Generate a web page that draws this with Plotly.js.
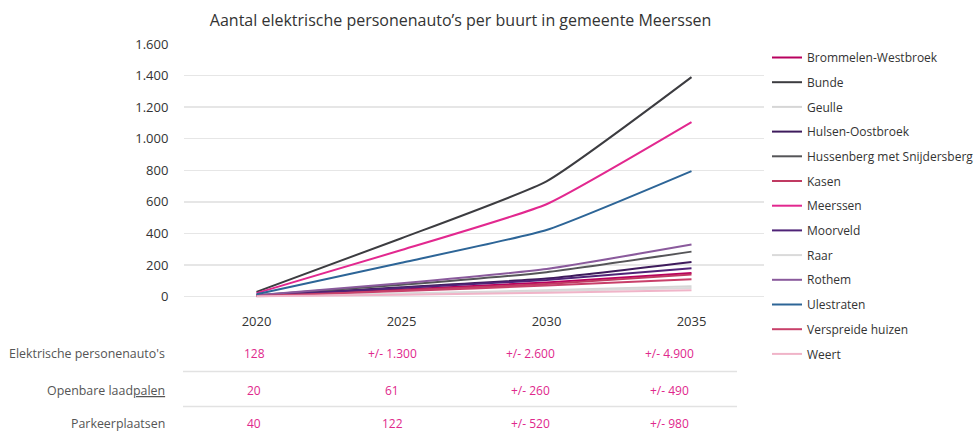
<!DOCTYPE html>
<html>
<head>
<meta charset="utf-8">
<script src="https://cdn.plot.ly/plotly-3.0.1.min.js"></script>
<style>html,body{margin:0;padding:0;background:#fff;}#chart{width:978px;height:432px;}</style>
</head>
<body>
<div id="chart"></div>
<script>
const years = ['2020', '2025', '2030', '2035'];
const yTicks = [0, 200, 400, 600, 800, 1000, 1200, 1400, 1600];

const buurten = ['Brommelen-Westbroek', 'Bunde', 'Geulle', 'Hulsen-Oostbroek', 'Hussenberg met Snijdersberg', 'Kasen', 'Meerssen', 'Moorveld', 'Raar', 'Rothem', 'Ulestraten', 'Verspreide huizen', 'Weert'];
const brommelen = [5, 45, 90, 150];
const bunde = [30, 370, 730, 1390];
const geulle = [3, 20, 40, 65];
const hulsen = [6, 60, 115, 220];
const hussenberg = [8, 75, 155, 285];
const kasen = [5, 40, 80, 140];
const meerssen = [22, 295, 585, 1105];
const moorveld = [6, 55, 105, 180];
const raar = [3, 18, 35, 55];
const rothem = [8, 85, 175, 330];
const ulestraten = [15, 215, 422, 795];
const verspreide = [4, 35, 70, 110];
const weert = [2, 12, 25, 40];
const seriesValues = [brommelen, bunde, geulle, hulsen, hussenberg, kasen, meerssen, moorveld, raar, rothem, ulestraten, verspreide, weert];
const seriesColors = ['#b8005e', '#3c3c40', '#d6d6d6', '#3e1b5c', '#555558', '#c03a62', '#e2288f', '#4f2377', '#dadada', '#8a5a9c', '#2d6597', '#c8406a', '#f0b4c8'];

const tableRows = ["Elektrische personenauto's", 'Openbare laad<u>palen</u>', 'Parkeerplaatsen'];
const rowEV = ['128', '+/- 1.300', '+/- 2.600', '+/- 4.900'];
const rowLaadpalen = ['20', '61', '+/- 260', '+/- 490'];
const rowParkeer = ['40', '122', '+/- 520', '+/- 980'];
const tableValues = [rowEV, rowLaadpalen, rowParkeer];

const W = 978, H = 432;
const mL = 184, mR = 978 - 764, mT = 44, mB = 132.6;
const plotH = H - mT - mB, plotW = W - mL - mR;
const pyToPaper = p => (H - mB - p) / plotH;
const pxToPaper = p => (p - mL) / plotW;

const traces = buurten.map((name, i) => ({
  type: 'scatter', mode: 'lines', name: name, x: years, y: seriesValues[i],
  line: {color: seriesColors[i], width: 2, shape: 'spline', smoothing: 0.45},
  legendgroup: 'g' + i, hoverinfo: 'skip'
}));

const annotations = [];
const rowY = [354, 391, 424];
const colX = [254, 392, 530, 669];
tableRows.forEach((lab, r) => {
  annotations.push({xref: 'paper', yref: 'paper', x: pxToPaper(167), y: pyToPaper(rowY[r]), xanchor: 'right', yanchor: 'middle', text: lab, showarrow: false, font: {family: 'Open Sans', size: 12.4, color: '#555'}});
  tableValues[r].forEach((v, c) => {
    annotations.push({xref: 'paper', yref: 'paper', x: pxToPaper(colX[c]), y: pyToPaper(rowY[r]), xanchor: 'center', yanchor: 'middle', text: v, showarrow: false, font: {family: 'Open Sans', size: 12, color: '#e0288c'}});
  });
});
const shapes = [372, 407].map(p => ({type: 'line', xref: 'paper', yref: 'paper', x0: pxToPaper(183), x1: pxToPaper(737), y0: pyToPaper(p), y1: pyToPaper(p), line: {color: '#e2e2e2', width: 1.5}}));

const layout = {
  width: W, height: H,
  margin: {l: mL, r: mR, t: mT, b: mB},
  paper_bgcolor: '#fff', plot_bgcolor: '#fff',
  separators: ',.',
  font: {family: 'Open Sans', color: '#333'},
  title: {text: 'Aantal elektrische personenauto’s per buurt in gemeente Meerssen', font: {family: 'Open Sans', size: 16, color: '#333'}, x: 0.471, xref: 'container', y: 0.953, yref: 'container', xanchor: 'center', yanchor: 'middle'},
  xaxis: {type: 'category', range: [-0.5, 3.5], showgrid: false, zeroline: false, showline: false, ticks: 'outside', ticklen: 10, tickcolor: 'rgba(0,0,0,0)', tickfont: {family: 'Open Sans', size: 13, color: '#333'}, fixedrange: true},
  yaxis: {range: [-15, 1600], tickvals: yTicks, tickformat: ',d', showgrid: true, gridcolor: '#e6e6e6', gridwidth: 1.5, zeroline: false, showline: false, ticks: 'outside', ticklen: 12, tickcolor: 'rgba(0,0,0,0)', tickfont: {family: 'Open Sans', size: 13, color: '#333'}, fixedrange: true},
  legend: {xref: 'container', x: 767 / W, xanchor: 'left', yref: 'container', y: 1 - 43 / H, yanchor: 'top', maxheight: 420, traceorder: 'grouped', tracegroupgap: 5.7, itemwidth: 30, font: {family: 'Open Sans', size: 12, color: '#333'}, bgcolor: 'rgba(0,0,0,0)'},
  showlegend: true,
  annotations: annotations,
  shapes: shapes
};

Plotly.newPlot('chart', traces, layout, {displayModeBar: false, staticPlot: true});
</script>
</body>
</html>
